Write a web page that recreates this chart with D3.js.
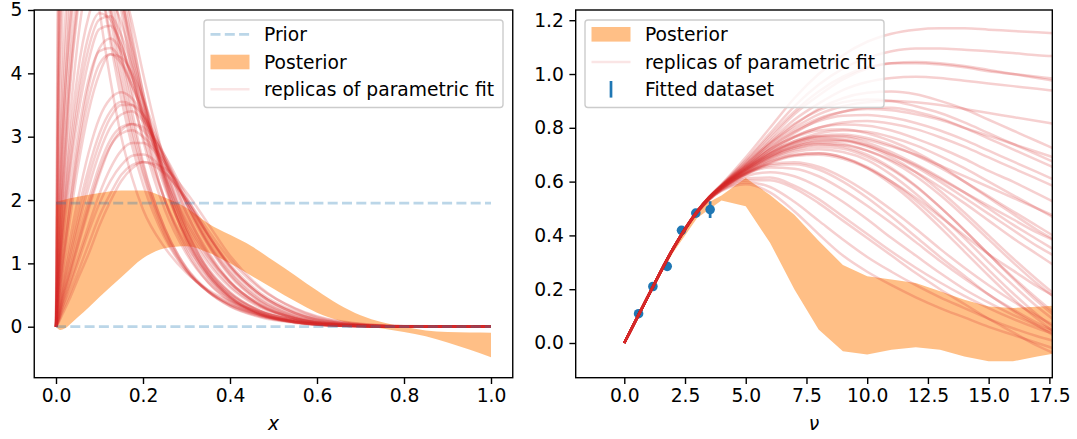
<!DOCTYPE html>
<html><head><meta charset="utf-8">
<script src="https://cdn.jsdelivr.net/npm/d3@7"></script>
<style>body{margin:0;background:#fff} text{font-family:"DejaVu Sans",sans-serif}</style>
</head><body>
<svg id="c" width="1077" height="439"></svg>
<script>
// ---------- data ----------
// Left panel: x grid for the replica curves
const xGrid = [0, 0.004, 0.015, 0.03, 0.05, 0.075, 0.1, 0.125, 0.15, 0.175, 0.2, 0.25, 0.3, 0.35, 0.4, 0.47, 0.55, 0.65, 0.8, 1.0];
// replicas of the parametric fit, q(x) sampled on xGrid
const pdfReplicas = [
  [0, 4.0, 8.5, 9, 8, 6.8, 5.6, 4.6, 3.8, 3.0, 2.4, 1.45, 0.88, 0.55, 0.35, 0.19, 0.09, 0.03, 0.004, 0],
  [0, 3.2, 7.0, 8.5, 8.2, 7.2, 6.0, 4.9, 3.9, 3.1, 2.45, 1.5, 0.9, 0.55, 0.33, 0.16, 0.07, 0.02, 0.002, 0],
  [0, 5.5, 9.5, 9.5, 8.0, 6.4, 5.0, 3.9, 3.0, 2.35, 1.85, 1.25, 0.85, 0.58, 0.4, 0.23, 0.11, 0.04, 0.005, 0],
  [0, 2.5, 6.0, 8.0, 8.5, 7.8, 6.6, 5.4, 4.3, 3.4, 2.6, 1.55, 0.92, 0.55, 0.32, 0.15, 0.06, 0.015, 0.001, 0],
  [0, 0.8, 2.6, 4.3, 5.8, 6.8, 7.0, 6.5, 5.6, 4.6, 3.7, 2.3, 1.35, 0.78, 0.44, 0.19, 0.07, 0.015, 0.001, 0],
  [0, 0.6, 2.0, 3.6, 5.0, 6.0, 6.3, 6.0, 5.3, 4.5, 3.7, 2.35, 1.42, 0.82, 0.46, 0.2, 0.075, 0.018, 0.001, 0],
  [0, 1.2, 3.4, 5.3, 6.8, 7.5, 7.3, 6.4, 5.3, 4.2, 3.3, 2.0, 1.2, 0.7, 0.4, 0.18, 0.07, 0.015, 0.001, 0],
  [0, 0.5, 1.7, 3.1, 4.5, 5.6, 6.1, 6.0, 5.5, 4.8, 4.0, 2.6, 1.55, 0.88, 0.48, 0.2, 0.07, 0.015, 0.001, 0],
  [0, 0.9, 2.9, 4.8, 6.3, 7.0, 6.8, 6.0, 5.0, 4.0, 3.2, 2.0, 1.25, 0.76, 0.45, 0.21, 0.08, 0.02, 0.001, 0],
  [0, 0.7, 2.2, 3.9, 5.3, 6.2, 6.4, 6.0, 5.2, 4.4, 3.55, 2.25, 1.38, 0.82, 0.47, 0.21, 0.08, 0.02, 0.001, 0],
  [0, 1.0, 3.0, 4.6, 5.6, 5.9, 5.6, 5.0, 4.3, 3.6, 3.0, 2.0, 1.3, 0.82, 0.5, 0.24, 0.1, 0.025, 0.002, 0],
  [0, 0.3, 1.0, 1.8, 2.8, 3.8, 4.4, 4.55, 4.35, 3.95, 3.45, 2.45, 1.62, 1.05, 0.65, 0.32, 0.13, 0.035, 0.002, 0],
  [0, 0.4, 1.3, 2.3, 3.3, 4.2, 4.7, 4.75, 4.45, 3.95, 3.4, 2.35, 1.55, 1.0, 0.62, 0.3, 0.12, 0.03, 0.002, 0],
  [0, 0.25, 0.85, 1.6, 2.5, 3.4, 4.0, 4.3, 4.25, 4.0, 3.6, 2.65, 1.8, 1.15, 0.7, 0.33, 0.13, 0.03, 0.002, 0],
  [0, 0.5, 1.5, 2.6, 3.7, 4.6, 4.95, 4.85, 4.45, 3.9, 3.3, 2.2, 1.4, 0.88, 0.53, 0.25, 0.1, 0.025, 0.002, 0],
  [0, 0.35, 1.1, 2.0, 3.0, 3.9, 4.35, 4.4, 4.2, 3.8, 3.35, 2.4, 1.65, 1.1, 0.7, 0.35, 0.14, 0.04, 0.003, 0],
  [0, 0.45, 1.4, 2.4, 3.5, 4.4, 4.85, 4.9, 4.6, 4.1, 3.55, 2.4, 1.5, 0.92, 0.55, 0.25, 0.1, 0.025, 0.002, 0],
  [0, 0.1, 0.45, 0.85, 1.4, 2.0, 2.55, 2.95, 3.15, 3.2, 3.1, 2.6, 1.95, 1.35, 0.88, 0.45, 0.19, 0.05, 0.004, 0],
  [0, 0.15, 0.55, 1.05, 1.65, 2.35, 2.9, 3.3, 3.5, 3.5, 3.35, 2.7, 1.95, 1.3, 0.82, 0.4, 0.16, 0.04, 0.003, 0],
  [0, 0.12, 0.5, 0.95, 1.55, 2.2, 2.75, 3.15, 3.35, 3.4, 3.25, 2.65, 1.95, 1.32, 0.85, 0.42, 0.17, 0.045, 0.003, 0],
  [0, 0.2, 0.7, 1.3, 2.0, 2.75, 3.3, 3.6, 3.7, 3.6, 3.35, 2.6, 1.8, 1.18, 0.72, 0.34, 0.13, 0.03, 0.002, 0],
  [0, 0.08, 0.38, 0.75, 1.25, 1.85, 2.4, 2.85, 3.1, 3.2, 3.15, 2.7, 2.05, 1.45, 0.95, 0.5, 0.21, 0.06, 0.005, 0],
  [0, 0.05, 0.25, 0.5, 0.85, 1.3, 1.75, 2.1, 2.4, 2.55, 2.6, 2.42, 2.02, 1.52, 1.06, 0.6, 0.29, 0.09, 0.01, 0],
  [0, 0.06, 0.3, 0.6, 1.0, 1.5, 1.95, 2.3, 2.55, 2.7, 2.72, 2.45, 1.98, 1.45, 0.98, 0.53, 0.24, 0.07, 0.007, 0],
  [0, 0.04, 0.2, 0.42, 0.75, 1.15, 1.6, 1.98, 2.3, 2.5, 2.6, 2.5, 2.12, 1.62, 1.12, 0.62, 0.28, 0.08, 0.008, 0],
  [0, 0.07, 0.33, 0.65, 1.08, 1.6, 2.1, 2.5, 2.78, 2.9, 2.9, 2.55, 2.0, 1.45, 0.96, 0.5, 0.22, 0.06, 0.005, 0],
  [0, 1.8, 5.0, 7.0, 7.6, 7.2, 6.2, 5.1, 4.1, 3.25, 2.55, 1.55, 0.93, 0.57, 0.35, 0.17, 0.07, 0.02, 0.002, 0],
  [0, 0.65, 2.1, 3.7, 5.1, 6.0, 6.2, 5.8, 5.1, 4.35, 3.6, 2.3, 1.42, 0.84, 0.48, 0.21, 0.08, 0.02, 0.001, 0],
  [0, 0.55, 1.6, 2.8, 4.0, 4.9, 5.3, 5.2, 4.8, 4.2, 3.6, 2.4, 1.5, 0.9, 0.53, 0.24, 0.09, 0.02, 0.002, 0],
  [0, 0.3, 0.95, 1.75, 2.7, 3.6, 4.15, 4.3, 4.15, 3.8, 3.4, 2.5, 1.72, 1.12, 0.7, 0.34, 0.13, 0.035, 0.002, 0],
  [0, 0.18, 0.62, 1.15, 1.8, 2.5, 3.05, 3.4, 3.55, 3.5, 3.3, 2.65, 1.9, 1.28, 0.8, 0.39, 0.15, 0.04, 0.003, 0],
  [0, 0.1, 0.42, 0.8, 1.3, 1.9, 2.45, 2.85, 3.05, 3.1, 3.0, 2.6, 2.0, 1.42, 0.94, 0.5, 0.21, 0.06, 0.005, 0],
  [0, 2.8, 6.5, 8.0, 7.6, 6.6, 5.5, 4.5, 3.6, 2.85, 2.25, 1.4, 0.88, 0.56, 0.36, 0.19, 0.08, 0.025, 0.003, 0],
  [0, 1.4, 3.9, 5.8, 7.0, 7.2, 6.6, 5.6, 4.6, 3.7, 2.95, 1.85, 1.15, 0.7, 0.42, 0.19, 0.07, 0.017, 0.001, 0]
];
// posterior band (left)
const postX  = [0, 0.01, 0.05, 0.1, 0.15, 0.2, 0.25, 0.3, 0.35, 0.4, 0.45, 0.5, 0.55, 0.6, 0.65, 0.7, 0.75, 0.8, 0.85, 0.9, 0.95, 1.0];
const postLo = [0, -0.05, 0.15, 0.47, 0.78, 1.08, 1.24, 1.27, 1.17, 1.0, 0.8, 0.6, 0.4, 0.22, 0.1, 0.025, -0.03, -0.085, -0.15, -0.25, -0.36, -0.484];
const postHi = [1.97, 1.99, 2.05, 2.11, 2.15, 2.15, 2.04, 1.88, 1.63, 1.45, 1.27, 1.04, 0.81, 0.57, 0.35, 0.18, 0.07, 0.0, -0.06, -0.085, -0.093, -0.095];
// prior band edges (left)
const priorLevels = [0, 1.95];
const priorX = [0, 1];

// Right panel
const nuGrid = [0, 1, 2, 3, 3.5, 4, 5, 6, 7, 8, 9, 10, 11, 12, 13, 14, 15, 16, 17, 18];
const itdReplicas = [
  [0,0.178,0.352,0.492,0.545,0.59, 0.69, 0.8, 0.91, 1.0, 1.07, 1.12, 1.15, 1.165, 1.17, 1.17, 1.165, 1.16, 1.155, 1.15],
  [0,0.178,0.35,0.49,0.543,0.588, 0.68, 0.78, 0.88, 0.96, 1.02, 1.06, 1.085, 1.095, 1.095, 1.09, 1.085, 1.078, 1.07, 1.065],
  [0,0.178,0.35,0.49,0.543,0.586, 0.67, 0.76, 0.85, 0.92, 0.98, 1.02, 1.04, 1.04, 1.035, 1.025, 1.01, 1.0, 0.99, 0.98],
  [0,0.177,0.35,0.489,0.542,0.585, 0.665, 0.75, 0.83, 0.89, 0.94, 0.97, 0.985, 0.99, 0.985, 0.975, 0.965, 0.955, 0.945, 0.935],
  [0,0.178,0.35,0.49,0.542,0.584, 0.66, 0.74, 0.8, 0.85, 0.88, 0.895, 0.9, 0.895, 0.885, 0.87, 0.855, 0.84, 0.825, 0.81],
  [0,0.178,0.35,0.489,0.541,0.583, 0.655, 0.73, 0.79, 0.835, 0.86, 0.87, 0.865, 0.85, 0.83, 0.8, 0.77, 0.74, 0.71, 0.68],
  [0,0.178,0.349,0.489,0.541,0.582, 0.65, 0.72, 0.78, 0.83, 0.86, 0.875, 0.875, 0.86, 0.835, 0.8, 0.76, 0.72, 0.68, 0.64],
  [0,0.178,0.35,0.49,0.542,0.584, 0.66, 0.74, 0.81, 0.87, 0.91, 0.93, 0.935, 0.925, 0.9, 0.87, 0.83, 0.79, 0.75, 0.71],
  [0,0.177,0.349,0.488,0.54,0.58, 0.645, 0.71, 0.765, 0.8, 0.82, 0.825, 0.815, 0.795, 0.765, 0.73, 0.69, 0.65, 0.61, 0.57],
  [0,0.178,0.35,0.489,0.541,0.582, 0.65, 0.71, 0.75, 0.77, 0.77, 0.755, 0.73, 0.7, 0.66, 0.62, 0.58, 0.54, 0.5, 0.46],
  [0,0.178,0.35,0.489,0.54,0.58, 0.645, 0.7, 0.74, 0.76, 0.755, 0.735, 0.7, 0.66, 0.61, 0.56, 0.51, 0.46, 0.41, 0.37],
  [0,0.178,0.349,0.488,0.54,0.579, 0.64, 0.695, 0.73, 0.745, 0.74, 0.715, 0.675, 0.62, 0.55, 0.47, 0.385, 0.3, 0.22, 0.15],
  [0,0.177,0.349,0.488,0.539,0.578, 0.638, 0.69, 0.725, 0.74, 0.73, 0.7, 0.65, 0.585, 0.505, 0.42, 0.33, 0.245, 0.165, 0.09],
  [0,0.178,0.35,0.489,0.541,0.581, 0.648, 0.705, 0.745, 0.765, 0.765, 0.745, 0.71, 0.665, 0.615, 0.56, 0.5, 0.44, 0.385, 0.33],
  [0,0.178,0.35,0.49,0.542,0.583, 0.655, 0.72, 0.765, 0.79, 0.795, 0.78, 0.75, 0.71, 0.66, 0.6, 0.54, 0.48, 0.42, 0.37],
  [0,0.177,0.349,0.487,0.538,0.576, 0.632, 0.68, 0.71, 0.72, 0.71, 0.68, 0.625, 0.555, 0.475, 0.39, 0.3, 0.215, 0.135, 0.065],
  [0,0.177,0.348,0.487,0.538,0.576, 0.63, 0.675, 0.7, 0.705, 0.69, 0.65, 0.59, 0.515, 0.43, 0.34, 0.25, 0.165, 0.09, 0.02],
  [0,0.178,0.349,0.488,0.54,0.579, 0.642, 0.695, 0.735, 0.755, 0.755, 0.735, 0.7, 0.655, 0.6, 0.54, 0.48, 0.42, 0.36, 0.31],
  [0,0.178,0.35,0.489,0.541,0.58, 0.645, 0.705, 0.75, 0.78, 0.79, 0.785, 0.765, 0.735, 0.695, 0.65, 0.6, 0.55, 0.5, 0.45],
  [0,0.177,0.348,0.486,0.537,0.574, 0.626, 0.668, 0.695, 0.7, 0.685, 0.65, 0.6, 0.54, 0.47, 0.4, 0.33, 0.27, 0.21, 0.16],
  [0,0.178,0.349,0.488,0.539,0.578, 0.636, 0.688, 0.722, 0.738, 0.735, 0.715, 0.68, 0.635, 0.58, 0.52, 0.455, 0.39, 0.33, 0.27],
  [0,0.176,0.346,0.483,0.532,0.565, 0.59, 0.56, 0.49, 0.405, 0.325, 0.265, 0.215, 0.17, 0.13, 0.095, 0.06, 0.03, 0.0, -0.03],
  [0,0.176,0.346,0.484,0.533,0.567, 0.598, 0.58, 0.525, 0.455, 0.385, 0.32, 0.265, 0.215, 0.17, 0.13, 0.09, 0.055, 0.025, 0.0],
  [0,0.177,0.347,0.485,0.535,0.57, 0.612, 0.615, 0.585, 0.535, 0.47, 0.405, 0.34, 0.28, 0.225, 0.175, 0.13, 0.09, 0.055, 0.025],
  [0,0.177,0.347,0.485,0.535,0.571, 0.62, 0.635, 0.62, 0.58, 0.525, 0.46, 0.39, 0.325, 0.26, 0.2, 0.15, 0.105, 0.065, 0.03],
  [0,0.177,0.348,0.486,0.536,0.573, 0.628, 0.652, 0.648, 0.62, 0.57, 0.51, 0.445, 0.375, 0.305, 0.24, 0.18, 0.125, 0.075, 0.035],
  [0,0.177,0.348,0.486,0.537,0.574, 0.632, 0.665, 0.672, 0.655, 0.615, 0.56, 0.495, 0.425, 0.35, 0.28, 0.215, 0.155, 0.1, 0.05],
  [0,0.177,0.348,0.486,0.536,0.573, 0.63, 0.66, 0.665, 0.645, 0.6, 0.54, 0.47, 0.395, 0.32, 0.25, 0.18, 0.12, 0.065, 0.01],
  [0,0.176,0.346,0.484,0.533,0.568, 0.605, 0.605, 0.575, 0.52, 0.455, 0.39, 0.325, 0.26, 0.2, 0.145, 0.09, 0.04, -0.01, -0.05],
  [0,0.178,0.35,0.49,0.542,0.585, 0.665, 0.745, 0.815, 0.865, 0.895, 0.905, 0.9, 0.88, 0.855, 0.82, 0.78, 0.74, 0.7, 0.66],
  [0,0.178,0.35,0.489,0.541,0.582, 0.652, 0.718, 0.768, 0.8, 0.812, 0.808, 0.79, 0.76, 0.725, 0.685, 0.64, 0.6, 0.555, 0.51],
  [0,0.178,0.349,0.488,0.54,0.58, 0.644, 0.702, 0.745, 0.77, 0.775, 0.762, 0.735, 0.698, 0.652, 0.6, 0.545, 0.49, 0.435, 0.38],
  [0,0.177,0.349,0.488,0.539,0.578, 0.64, 0.693, 0.73, 0.75, 0.75, 0.73, 0.69, 0.635, 0.565, 0.485, 0.4, 0.315, 0.235, 0.16],
  [0,0.177,0.348,0.487,0.538,0.576, 0.634, 0.684, 0.717, 0.73, 0.722, 0.692, 0.645, 0.582, 0.505, 0.42, 0.33, 0.24, 0.155, 0.08],
  [0,0.177,0.348,0.486,0.537,0.574, 0.628, 0.672, 0.698, 0.705, 0.69, 0.655, 0.6, 0.53, 0.45, 0.362, 0.272, 0.185, 0.105, 0.035],
  [0,0.178,0.35,0.49,0.543,0.587, 0.675, 0.77, 0.86, 0.935, 0.99, 1.025, 1.04, 1.045, 1.04, 1.03, 1.015, 1.0, 0.985, 0.97],
  [0,0.178,0.35,0.489,0.541,0.583, 0.655, 0.728, 0.785, 0.825, 0.845, 0.848, 0.838, 0.818, 0.79, 0.755, 0.715, 0.675, 0.635, 0.595]
];
// posterior band (right)
const itdNu = [0, 1, 2, 3, 4, 5, 6, 7, 8, 9, 10, 11, 12, 13, 14, 15, 16, 17, 18];
const itdLo = [0, 0.172, 0.335, 0.465, 0.53, 0.508, 0.373, 0.2, 0.05, -0.031, -0.043, -0.025, -0.016, -0.025, -0.05, -0.068, -0.068, -0.05, -0.035];
const itdHi = [0, 0.185, 0.36, 0.5, 0.548, 0.613, 0.55, 0.477, 0.38, 0.29, 0.248, 0.236, 0.223, 0.192, 0.161, 0.136, 0.13, 0.135, 0.14];
// fitted dataset
const dataNu  = [0.589, 1.178, 1.767, 2.356, 2.945, 3.534];
const dataVal = [0.109, 0.21, 0.285, 0.419, 0.483, 0.496];
const dataErr = [0.004, 0.005, 0.007, 0.009, 0.013, 0.031];

// tick values / labels
const leftXTicks = [0, 0.2, 0.4, 0.6, 0.8, 1.0];
const leftYTicks = [0, 1, 2, 3, 4, 5];
const rightXTicks = [0, 2.5, 5, 7.5, 10, 12.5, 15, 17.5];
const rightYTicks = [0, 0.2, 0.4, 0.6, 0.8, 1.0, 1.2];
const legendLeft = ["Prior", "Posterior", "replicas of parametric fit"];
const legendRight = ["Posterior", "replicas of parametric fit", "Fitted dataset"];

// ---------- drawing ----------
const svg = d3.select("#c");
const BLUE = "#1f77b4", ORANGE = "#ff7f0e", RED = "#d62728";
const FS = "18.7px";
const REP_ALPHA = 0.22, REP_W = 2.5;
const AX_TOP = 10, AX_BOT = 377.7;

const lx = d3.scaleLinear().domain([-0.05, 1.05]).range([34.25, 512.75]);
const ly = d3.scaleLinear().domain([-0.805, 5]).range([AX_BOT, AX_TOP]);
const rx = d3.scaleLinear().domain([-2, 17.62]).range([575.7, 1052.3]);
const ry = d3.scaleLinear().domain([-0.129, 1.238]).range([AX_BOT, AX_TOP]);

const defs = svg.append("defs");
function clip(id, xs, ys) {
  defs.append("clipPath").attr("id", id).append("rect")
    .attr("x", xs.range()[0]).attr("y", ys.range()[1])
    .attr("width", xs.range()[1] - xs.range()[0]).attr("height", ys.range()[0] - ys.range()[1]);
}
clip("cl", lx, ly); clip("cr", rx, ry);

// ---- left panel ----
const gl = svg.append("g").attr("clip-path", "url(#cl)");
gl.append("path")
  .attr("d", d3.area().x((d, i) => lx(postX[i])).y0((d, i) => ly(postLo[i])).y1((d, i) => ly(postHi[i])).curve(d3.curveMonotoneX)(postX))
  .attr("fill", ORANGE).attr("fill-opacity", 0.5);
const lineL = d3.line().x((d, i) => lx(xGrid[i])).y(d => ly(d)).curve(d3.curveMonotoneX);
gl.selectAll(".rl").data(pdfReplicas).join("path")
  .attr("d", lineL).attr("fill", "none").attr("stroke", RED)
  .attr("stroke-opacity", REP_ALPHA).attr("stroke-width", REP_W);
priorLevels.forEach(v => {
  gl.append("line").attr("x1", lx(priorX[0])).attr("x2", lx(priorX[1]))
    .attr("y1", ly(v)).attr("y2", ly(v))
    .attr("stroke", BLUE).attr("stroke-opacity", 0.3).attr("stroke-width", 2.7)
    .attr("stroke-dasharray", "10,4.3");
});

// ---- right panel ----
const gr = svg.append("g").attr("clip-path", "url(#cr)");
gr.append("path")
  .attr("d", d3.area().x((d, i) => rx(itdNu[i])).y0((d, i) => ry(itdLo[i])).y1((d, i) => ry(itdHi[i]))(itdNu))
  .attr("fill", ORANGE).attr("fill-opacity", 0.5);
dataNu.forEach((n, i) => {
  gr.append("line").attr("x1", rx(n)).attr("x2", rx(n))
    .attr("y1", ry(dataVal[i] - dataErr[i])).attr("y2", ry(dataVal[i] + dataErr[i]))
    .attr("stroke", BLUE).attr("stroke-width", 2.7);
  gr.append("circle").attr("cx", rx(n)).attr("cy", ry(dataVal[i])).attr("r", 4.8).attr("fill", BLUE);
});
const lineR = d3.line().x((d, i) => rx(nuGrid[i])).y(d => ry(d)).curve(d3.curveMonotoneX);
gr.selectAll(".rr").data(itdReplicas).join("path")
  .attr("d", lineR).attr("fill", "none").attr("stroke", RED)
  .attr("stroke-opacity", REP_ALPHA).attr("stroke-width", REP_W);

// ---- axes ----
function axes(xs, ys, xt, yt, xf, yf, label) {
  const gx = svg.append("g").attr("transform", `translate(0,${AX_BOT})`)
    .call(d3.axisBottom(xs).tickValues(xt).tickFormat(xf).tickSize(6.3).tickPadding(5).tickSizeOuter(0));
  const gy = svg.append("g").attr("transform", `translate(${xs.range()[0]},0)`)
    .call(d3.axisLeft(ys).tickValues(yt).tickFormat(yf).tickSize(6.3).tickPadding(5.5).tickSizeOuter(0));
  [gx, gy].forEach(g => {
    g.select(".domain").remove();
    g.selectAll("line").attr("stroke", "#000").attr("stroke-width", 1.4);
    g.selectAll("text").attr("font-size", FS).attr("font-family", "DejaVu Sans").attr("fill", "#000");
  });
  svg.append("rect").attr("x", xs.range()[0]).attr("y", AX_TOP)
    .attr("width", xs.range()[1] - xs.range()[0]).attr("height", AX_BOT - AX_TOP)
    .attr("fill", "none").attr("stroke", "#000").attr("stroke-width", 1.4);
  svg.append("text").attr("x", (xs.range()[0] + xs.range()[1]) / 2).attr("y", 430)
    .attr("text-anchor", "middle").attr("font-size", FS).attr("font-style", "italic").text(label);
}
axes(lx, ly, leftXTicks, leftYTicks, d3.format(".1f"), d3.format("d"), "x");
axes(rx, ry, rightXTicks, rightYTicks, d3.format(".1f"), d3.format(".1f"), "ν");

// ---- legends ----
function legend(x0, x1, labels, kinds) {
  const g = svg.append("g");
  g.append("rect").attr("x", x0).attr("y", 20).attr("width", x1 - x0).attr("height", 87.5)
    .attr("rx", 3).attr("fill", "#fff").attr("fill-opacity", 0.8)
    .attr("stroke", "#ccc").attr("stroke-width", 1.4);
  const rows = [34.3, 62.0, 89.3];
  const hx0 = x0 + 6.5, hx1 = x0 + 45.5;
  labels.forEach((lab, i) => {
    const cy = rows[i], k = kinds[i];
    if (k === "prior") {
      g.append("line").attr("x1", hx0).attr("x2", hx1).attr("y1", cy).attr("y2", cy)
        .attr("stroke", BLUE).attr("stroke-opacity", 0.3).attr("stroke-width", 2.7).attr("stroke-dasharray", "10,4.3");
    } else if (k === "band") {
      g.append("rect").attr("x", hx0).attr("y", cy - 7.3).attr("width", hx1 - hx0).attr("height", 14.6)
        .attr("fill", ORANGE).attr("fill-opacity", 0.5);
    } else if (k === "rep") {
      g.append("line").attr("x1", hx0).attr("x2", hx1).attr("y1", cy).attr("y2", cy)
        .attr("stroke", RED).attr("stroke-opacity", 0.12).attr("stroke-width", REP_W);
    } else if (k === "data") {
      const mx = (hx0 + hx1) / 2;
      g.append("line").attr("x1", mx).attr("x2", mx).attr("y1", cy - 8.3).attr("y2", cy + 8.3)
        .attr("stroke", BLUE).attr("stroke-width", 2.7);
    }
    g.append("text").attr("x", x0 + 60).attr("y", cy + 6.6).attr("font-size", FS).attr("fill", "#000").text(lab);
  });
}
legend(204, 503, legendLeft, ["prior", "band", "rep"]);
legend(585, 884, legendRight, ["band", "rep", "data"]);
</script>
</body></html>
